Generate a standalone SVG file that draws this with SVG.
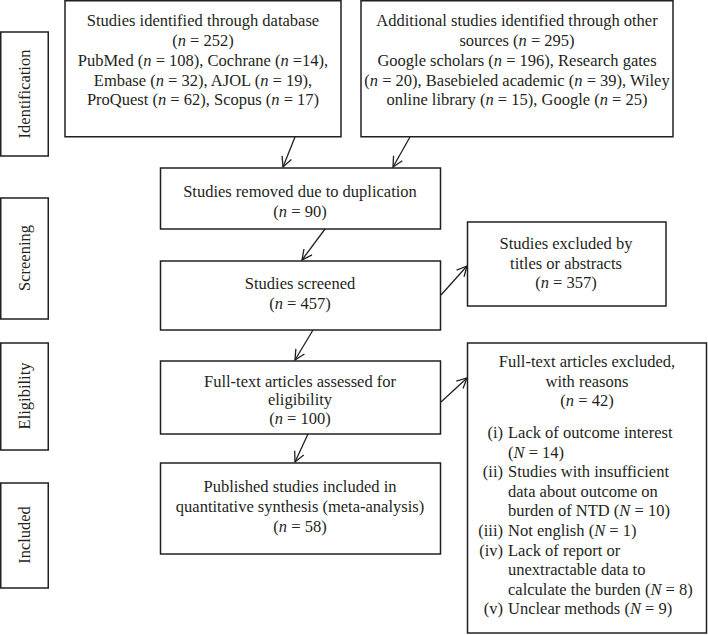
<svg xmlns="http://www.w3.org/2000/svg" width="708" height="635" viewBox="0 0 708 635">
<style>
text{font-family:"Liberation Serif","Times New Roman",serif;font-size:16.5px;fill:#231f20}
.c{text-anchor:middle}
.e{text-anchor:end}
.i{font-style:italic}
rect{fill:#fff;stroke:#231f20;stroke-width:1.5}
.conn line{stroke:#231f20;stroke-width:1.3;fill:none}
</style>
<defs>
<marker id="ah" markerUnits="userSpaceOnUse" markerWidth="12" markerHeight="12" viewBox="0 0 12 12" refX="11" refY="6" orient="auto">
<path d="M1,1 L11,6 L1,11" fill="none" stroke="#231f20" stroke-width="1.3"/>
</marker>
</defs>
<rect x="0" y="0" width="708" height="635" style="stroke:none"/>

<g id="stage-identification"><rect x="0.75" y="32" width="47.5" height="124"/><text class="c" transform="translate(30,94) rotate(-90)">Identification</text></g>
<g id="stage-screening"><rect x="0.75" y="198" width="47.5" height="121"/><text class="c" transform="translate(30,258) rotate(-90)">Screening</text></g>
<g id="stage-eligibility"><rect x="0.75" y="343" width="47.5" height="107"/><text class="c" transform="translate(30,396) rotate(-90)">Eligibility</text></g>
<g id="stage-included"><rect x="0.75" y="483" width="47.5" height="105"/><text class="c" transform="translate(30,535) rotate(-90)">Included</text></g>

<g id="database">
<rect x="65" y="0.75" width="276" height="136"/>
<text class="c" x="203" y="26">Studies identified through database</text>
<text class="c" x="203" y="46">(<tspan class="i">n</tspan> = 252)</text>
<text class="c" x="203" y="66">PubMed (<tspan class="i">n</tspan> = 108), Cochrane (<tspan class="i">n</tspan> =14),</text>
<text class="c" x="203" y="86">Embase (<tspan class="i">n</tspan> = 32), AJOL (<tspan class="i">n</tspan> = 19),</text>
<text class="c" x="203" y="105">ProQuest (<tspan class="i">n</tspan> = 62), Scopus (<tspan class="i">n</tspan> = 17)</text>
</g>

<g id="other-sources">
<rect x="361" y="0.75" width="312" height="136"/>
<text class="c" x="517" y="26">Additional studies identified through other</text>
<text class="c" x="517" y="46">sources (<tspan class="i">n</tspan> = 295)</text>
<text class="c" x="517" y="66">Google scholars (<tspan class="i">n</tspan> = 196), Research gates</text>
<text class="c" x="517" y="86">(<tspan class="i">n</tspan> = 20), Basebieled academic (<tspan class="i">n</tspan> = 39), Wiley</text>
<text class="c" x="517" y="105">online library (<tspan class="i">n</tspan> = 15), Google (<tspan class="i">n</tspan> = 25)</text>
</g>

<g id="duplicates">
<rect x="160.5" y="168" width="280" height="61"/>
<text class="c" x="300" y="197">Studies removed due to duplication</text>
<text class="c" x="300" y="217">(<tspan class="i">n</tspan> = 90)</text>
</g>

<g id="screened">
<rect x="160.5" y="261" width="280" height="69"/>
<text class="c" x="300" y="289">Studies screened</text>
<text class="c" x="300" y="309">(<tspan class="i">n</tspan> = 457)</text>
</g>

<g id="excluded-titles">
<rect x="467.5" y="222" width="198.5" height="84"/>
<text class="c" x="566" y="249">Studies excluded by</text>
<text class="c" x="566" y="269">titles or abstracts</text>
<text class="c" x="566" y="288">(<tspan class="i">n</tspan> = 357)</text>
</g>

<g id="assessed">
<rect x="160.5" y="361" width="280" height="73"/>
<text class="c" x="300" y="387">Full-text articles assessed for</text>
<text class="c" x="300" y="405">eligibility</text>
<text class="c" x="300" y="424">(<tspan class="i">n</tspan> = 100)</text>
</g>

<g id="excluded-fulltext">
<rect x="467.5" y="343" width="239" height="290"/>
<text class="c" x="587" y="367">Full-text articles excluded,</text>
<text class="c" x="587" y="387">with reasons</text>
<text class="c" x="587" y="406">(<tspan class="i">n</tspan> = 42)</text>
<text class="e" x="503" y="438">(i)</text><text x="508" y="438">Lack of outcome interest</text>
<text x="508" y="457.6">(<tspan class="i">N</tspan> = 14)</text>
<text class="e" x="503" y="477.2">(ii)</text><text x="508" y="477.2">Studies with insufficient</text>
<text x="508" y="496.8">data about outcome on</text>
<text x="508" y="516.4">burden of NTD (<tspan class="i">N</tspan> = 10)</text>
<text class="e" x="503" y="536">(iii)</text><text x="508" y="536">Not english (<tspan class="i">N</tspan> = 1)</text>
<text class="e" x="503" y="555.6">(iv)</text><text x="508" y="555.6">Lack of report or</text>
<text x="508" y="575.2">unextractable data to</text>
<text x="508" y="594.8">calculate the burden (<tspan class="i">N</tspan> = 8)</text>
<text class="e" x="503" y="614.4">(v)</text><text x="508" y="614.4">Unclear methods (<tspan class="i">N</tspan> = 9)</text>
</g>

<g id="included">
<rect x="160.5" y="463" width="280" height="91"/>
<text class="c" x="300" y="492">Published studies included in</text>
<text class="c" x="300" y="512">quantitative synthesis (meta-analysis)</text>
<text class="c" x="300" y="532">(<tspan class="i">n</tspan> = 58)</text>
</g>

<g id="connectors" class="conn">
<line x1="295" y1="137" x2="283" y2="167" marker-end="url(#ah)"/>
<line x1="410" y1="137" x2="393" y2="167" marker-end="url(#ah)"/>
<line x1="325" y1="229" x2="302" y2="260" marker-end="url(#ah)"/>
<line x1="313" y1="330" x2="295" y2="360" marker-end="url(#ah)"/>
<line x1="308" y1="434" x2="295" y2="462" marker-end="url(#ah)"/>
<line x1="441" y1="295" x2="467" y2="266" marker-end="url(#ah)"/>
<line x1="441" y1="402" x2="467" y2="378" marker-end="url(#ah)"/>
</g>
</svg>
